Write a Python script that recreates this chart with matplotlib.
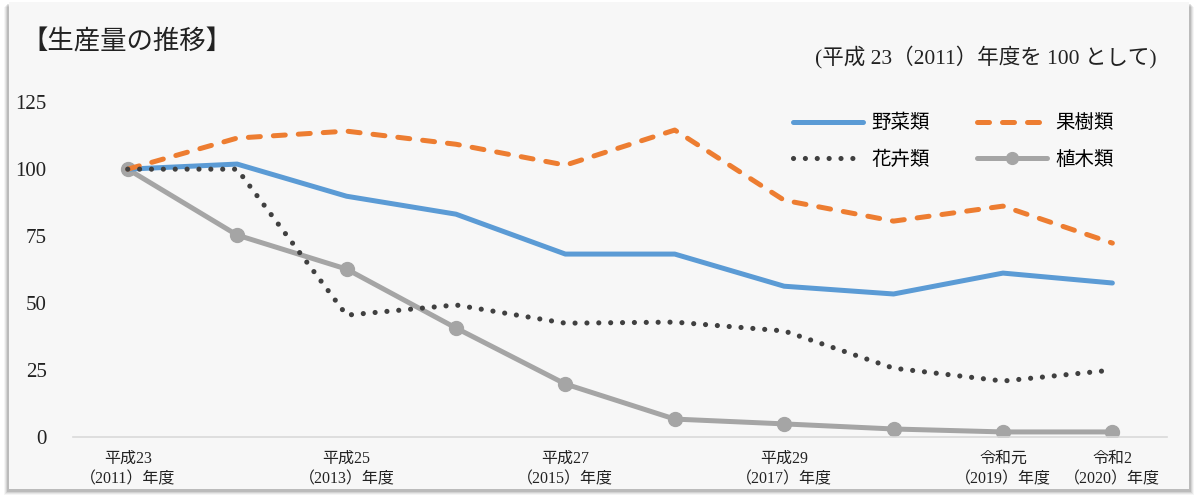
import numpy as np
import matplotlib.pyplot as plt
from matplotlib.patches import Rectangle

plt.rcParams['font.family'] = ['Liberation Serif', 'Noto Sans CJK JP']

# 平成23(2011)年度 = 100
years = ['2011', '2012', '2013', '2014', '2015', '2016', '2017', '2018', '2019', '2020']
vegetables = [100, 101.9, 89.9, 83.2, 68.3, 68.3, 56.3, 53.4, 61.2, 57.5]
fruit_trees = [100, 111.6, 114.2, 109.3, 101.5, 114.6, 88.4, 80.6, 86.2, 72.4]
flowers = [100, 100, 45.5, 49.3, 42.5, 42.9, 39.6, 25.7, 20.9, 25.0]
nursery = [100, 75.4, 62.7, 40.7, 19.8, 6.7, 4.9, 3.0, 1.9, 1.9]

tick_idx = [0, 2, 4, 6, 8, 9]
tick_labels = ['平成23\n（2011）年度', '平成25\n（2013）年度', '平成27\n（2015）年度',
               '平成29\n（2017）年度', '令和元\n（2019）年度', '令和2\n（2020）年度']
y_ticks = [0, 25, 50, 75, 100, 125]

fig = plt.figure(figsize=(11.97, 4.99), dpi=100, facecolor='white')

# panel with a soft shadow on the left / right / bottom
for i, a in enumerate([0.04, 0.06, 0.08, 0.11]):
    d = (4 - i) / 1197
    fig.patches.append(Rectangle((0.0065 - d, 0.016 - d * 2.4), 0.988 + 2 * d, 0.978,
                                 transform=fig.transFigure, facecolor='black',
                                 alpha=a, edgecolor='none', zorder=-3))
fig.patches.append(Rectangle((0.0075, 0.02), 0.986, 0.975, transform=fig.transFigure,
                             facecolor='#f7f7f7', edgecolor='none', zorder=-2))

ax = fig.add_axes([0.061, 0.1242, 0.914, 0.671])
ax.set_facecolor('none')
x = np.arange(len(years))

l_veg, = ax.plot(x, vegetables, color='#5b9bd5', lw=3.6, solid_capstyle='round',
                 solid_joinstyle='round', label='野菜類', zorder=3)
l_fruit, = ax.plot(x, fruit_trees, color='#ed7d31', lw=3.6, linestyle=(0, (2.4, 2.6)),
                   dash_capstyle='round', label='果樹類', zorder=3)
l_flow, = ax.plot(x, flowers, color='#404040', lw=3.7, linestyle=(0, (0.01, 2.3)),
                  dash_capstyle='round', label='花卉類', zorder=4)
l_tree, = ax.plot(x, nursery, color='#a5a5a5', lw=3.6, marker='o', markersize=10,
                  solid_capstyle='round', label='植木類', zorder=2)

ax.set_xlim(-0.5, 9.5)
ax.set_ylim(0, 125)
ax.set_yticks(y_ticks)
ax.set_yticklabels([str(v) for v in y_ticks], fontsize=15)
ax.set_xticks(tick_idx)
ax.set_xticklabels(tick_labels, fontsize=11.5, linespacing=1.4)
ax.tick_params(axis='both', length=0, colors='#222222')
ax.tick_params(axis='y', pad=19)
ax.tick_params(axis='x', pad=10)

for s in ['top', 'right', 'left']:
    ax.spines[s].set_visible(False)
ax.spines['bottom'].set_color('#d9d9d9')
ax.spines['bottom'].set_linewidth(1.2)

# two columns, filled column by column
ax.legend([l_veg, l_flow, l_fruit, l_tree], ['野菜類', '花卉類', '果樹類', '植木類'],
          ncol=2, loc='upper left', bbox_to_anchor=(0.642, 1.017), frameon=False,
          fontsize=14, handlelength=3.6, columnspacing=2.4, handletextpad=0.45,
          labelspacing=0.95, markerscale=0.85)

fig.text(0.018, 0.915, '【生産量の推移】', fontsize=19, color='#222222', va='center')
fig.text(0.966, 0.885, '(平成 23（2011）年度を 100 として)', fontsize=15.5,
         color='#222222', va='center', ha='right')

fig.savefig('out.png', dpi=100, facecolor='white')
